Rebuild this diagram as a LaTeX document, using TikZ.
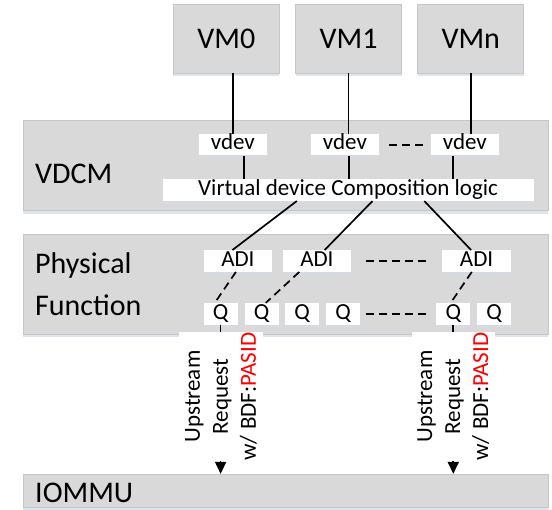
\documentclass[tikz,border=0pt]{standalone}
\usepackage{fontspec}
\setmainfont{Carlito}
\usetikzlibrary{arrows.meta,shadows}
\definecolor{boxgray}{HTML}{D9D9D9}
\definecolor{edgegray}{HTML}{C6C6C6}
\definecolor{shadowblue}{HTML}{D3DDEA}
\tikzset{
  panel/.style={draw=edgegray, fill=boxgray, line width=0.8pt, inner sep=0pt,
    drop shadow={shadow xshift=0pt, shadow yshift=-3pt, fill=shadowblue, opacity=0.8}},
  vmbox/.style={panel, minimum width=106pt, minimum height=69pt,
    font=\fontsize{30}{34}\selectfont},
  bigtext/.style={inner sep=0pt, font=\fontsize{30}{34}\selectfont},
  wbox/.style={fill=white, inner sep=0pt, minimum height=21.5pt,
    text height=15.5pt, text depth=5pt, font=\fontsize{23}{26}\selectfont,
    drop shadow={shadow xshift=0pt, shadow yshift=-2pt, fill=shadowblue, opacity=0.6}},
  upbox/.style={fill=white, rotate=90, inner sep=0pt, align=center,
    minimum width=129pt, minimum height=83.4pt, font=\fontsize{23}{28}\selectfont},
  link/.style={line width=1.7pt},
  dashlink/.style={line width=1.7pt, dash pattern=on 8pt off 5pt},
  uplink/.style={line width=1.7pt, -{Triangle[width=11pt,length=12pt]}}
}
\begin{document}
\begin{tikzpicture}[x=1pt,y=-1pt]
  \useasboundingbox (0,0) rectangle (552,510);
  % panels
  \node[panel, minimum width=525pt, minimum height=90pt] (vdcm) at (285.4,165.7) {};
  \node[panel, minimum width=525pt, minimum height=99.5pt] (pf) at (285.4,284.3) {};
  \node[panel, minimum width=525pt, minimum height=33.4pt] (iommu) at (285.4,491) {};
  \node[bigtext, anchor=base west] (vdcmname) at (35,184) {VDCM};
  \node[bigtext, anchor=base west] (pfname1) at (35,274) {Physical};
  \node[bigtext, anchor=base west] (pfname2) at (35,316) {Function};
  \node[bigtext, anchor=base west] (iommuname) at (35,502.7) {IOMMU};
  % virtual machines
  \foreach \n/\x/\t in {vm0/226.4/VM0, vm1/348.6/VM1, vmn/470.8/VMn}
    \node[vmbox] (\n) at (\x,38.5) {\t};
  % VDCM contents
  \foreach \n/\x in {vdev1/232.8, vdev2/344.9, vdev3/464.8}
    \node[wbox, minimum width=68pt] (\n) at (\x,144.7) {vdev};
  \node[wbox, minimum width=370.8pt] (logic) at (348.1,190.1) {Virtual device Composition logic};
  % physical function contents
  \foreach \n/\x in {adi1/237.9, adi2/316.9, adi3/476.6}
    \node[wbox, minimum width=68.5pt] (\n) at (\x,261) {ADI};
  \foreach \n/\x in {q1/220.6, q2/261.5, q3/302, q4/343.2, q5/453.3, q6/494}
    \node[wbox, minimum width=34pt] (\n) at (\x,313.8) {Q};
  % VM to vdev
  \draw[link] (vdev1.north) -- (vdev1.north |- vm0.south);
  \draw[link] (vm1.south) -- (vm1.south |- vdev2.north);
  \draw[link] (vmn.south) -- (vmn.south |- vdev3.north);
  \draw[dashlink, shorten <=9.8pt, shorten >=4.6pt] (vdev2.east) -- (vdev3.west);
  % vdev to composition logic
  \draw[link] ([xshift=11.2pt]vdev1.south) -- ([xshift=11.2pt]vdev1.south |- logic.north);
  \draw[link] ([xshift=4.1pt]vdev2.south) -- ([xshift=4.1pt]vdev2.south |- logic.north);
  \draw[link] ([xshift=-11.8pt]vdev3.south) -- ([xshift=-11.8pt]vdev3.south |- logic.north);
  % composition logic to ADI
  \draw[link] ([xshift=-51.3pt]logic.south) -- ([xshift=-5.5pt]adi1.north);
  \draw[link] ([xshift=24.4pt]logic.south) -- ([xshift=7.7pt]adi2.north);
  \draw[link] ([xshift=76.2pt]logic.south) -- ([xshift=-5.5pt]adi3.north);
  \draw[dashlink, shorten <=15pt, shorten >=12.7pt] (adi2.east) -- (adi3.west);
  % ADI to queues
  \draw[dashlink] ([xshift=-2pt]adi1.south) -- ([xshift=-5.8pt]q1.north);
  \draw[dashlink] ([xshift=-17.6pt]adi2.south) -- ([xshift=4.3pt]q2.north);
  \draw[dashlink] ([xshift=-4.8pt]adi3.south) -- ([xshift=-2.6pt]q5.north);
  \draw[dashlink, shorten <=6pt, shorten >=5.3pt] (q4.east) -- (q5.west);
  % upstream requests
  \draw[uplink] (q1.south) -- (q1.south |- iommu.north);
  \draw[uplink] (q5.south) -- (q5.south |- iommu.north);
  \node[upbox] (req1) at (221,396.5) {Upstream\\Request\\w/ BDF:\textcolor{red}{PASID}};
  \node[upbox] (req2) at (453.3,396.5) {Upstream\\Request\\w/ BDF:\textcolor{red}{PASID}};
\end{tikzpicture}
\end{document}
